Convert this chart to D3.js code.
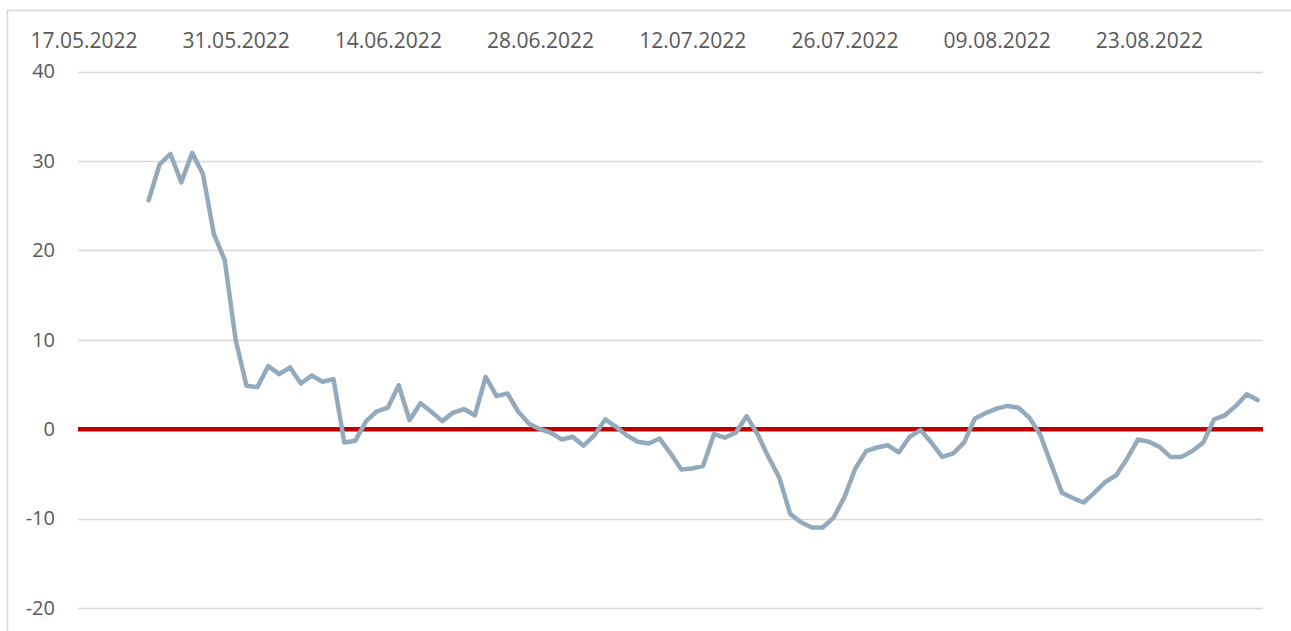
<!DOCTYPE html>
<html>
<head>
<meta charset="utf-8">
<script src="https://cdn.jsdelivr.net/npm/d3@7"></script>
<style>
  body { margin: 0; background: #fff; }
  svg { display: block; }
</style>
</head>
<body>
<div id="chart"></div>
<script>
// daily values from 23.05.2022 to 02.09.2022
var firstDay = Date.UTC(2022, 4, 23)
var values = [
  25.6, 29.6, 30.8, 27.6, 30.9, 28.5, 21.8, 18.9, 10.0, 4.85,
  4.7, 7.05, 6.15, 6.9, 5.1, 6.0, 5.3, 5.6, -1.5, -1.3,
  0.9, 2.0, 2.4, 4.9, 1.0, 2.9, 1.95, 0.9, 1.85, 2.25,
  1.55, 5.85, 3.7, 4.0, 1.95, 0.6, 0.0, -0.4, -1.15, -0.85,
  -1.85, -0.7, 1.1, 0.25, -0.7, -1.4, -1.6, -1.05, -2.7, -4.5,
  -4.4, -4.1, -0.55, -0.95, -0.4, 1.45, -0.55, -3.1, -5.4, -9.45,
  -10.4, -11.0, -11.0, -9.9, -7.6, -4.4, -2.45, -2.05, -1.8, -2.6,
  -0.85, -0.1, -1.5, -3.1, -2.7, -1.5, 1.2, 1.8, 2.3, 2.6,
  2.4, 1.3, -0.6, -3.85, -7.1, -7.7, -8.2, -7.1, -5.9, -5.15,
  -3.3, -1.15, -1.4, -2.0, -3.1, -3.1, -2.45, -1.5, 1.1, 1.55,
  2.6, 3.9, 3.25
]
var axisStart = Date.UTC(2022, 4, 17)
var axisEnd = Date.UTC(2022, 8, 2)
var xTickLabels = ["17.05.2022", "31.05.2022", "14.06.2022", "28.06.2022",
  "12.07.2022", "26.07.2022", "09.08.2022", "23.08.2022"]
var yTicks = [-20, -10, 0, 10, 20, 30, 40]

var parseLabel = d3.utcParse("%d.%m.%Y")
var data = values.map(function(v, i) {
  return { date: d3.utcDay.offset(new Date(firstDay), i), value: v }
})

var width = 1291, height = 631
var margin = { left: 78, right: 28, top: 71.5, bottom: 23 }

var svg = d3.select("#chart")
  .append("svg")
  .attr("width", width)
  .attr("height", height)

// outer frame
svg.append("rect")
  .attr("x", 7.5)
  .attr("y", 10.5)
  .attr("width", 1400)
  .attr("height", 700)
  .attr("fill", "none")
  .attr("stroke", "#d9d9d9")
  .attr("stroke-width", 1.5)

// half a day of padding on each side, like a date category axis
var x = d3.scaleUtc()
  .domain([d3.utcHour.offset(new Date(axisStart), -12), d3.utcHour.offset(new Date(axisEnd), 12)])
  .range([margin.left, width - margin.right])

var y = d3.scaleLinear()
  .domain([-20, 40])
  .range([height - margin.bottom, margin.top])

// gridlines
svg.append("g")
  .selectAll("line")
  .data(yTicks)
  .enter()
  .append("line")
  .attr("x1", margin.left)
  .attr("x2", width - margin.right)
  .attr("y1", function(d) { return Math.round(y(d)) + 0.5 })
  .attr("y2", function(d) { return Math.round(y(d)) + 0.5 })
  .attr("stroke", "#d9d9d9")
  .attr("stroke-width", 1.5)

// Y axis labels (plain hyphen for negatives)
var yAxis = svg.append("g")
  .attr("transform", "translate(55,0)")
  .call(d3.axisLeft(y)
    .tickValues(yTicks)
    .tickFormat(function(d) { return String(d) })
    .tickSize(0)
    .tickPadding(0))
yAxis.select(".domain").remove()
yAxis.selectAll("text")
  .attr("font-family", "'Open Sans', sans-serif")
  .attr("font-size", 20)
  .attr("fill", "#595959")

// X axis labels on top
var xAxis = svg.append("g")
  .attr("transform", "translate(0,48)")
  .call(d3.axisTop(x)
    .tickValues(xTickLabels.map(parseLabel))
    .tickFormat(d3.utcFormat("%d.%m.%Y"))
    .tickSize(0)
    .tickPadding(0))
xAxis.select(".domain").remove()
xAxis.selectAll("text")
  .attr("font-family", "'Open Sans', sans-serif")
  .attr("font-size", 21)
  .attr("fill", "#595959")

// zero line
svg.append("line")
  .attr("x1", margin.left)
  .attr("x2", width - margin.right)
  .attr("y1", y(0))
  .attr("y2", y(0))
  .attr("stroke", "#c00000")
  .attr("stroke-width", 4.5)

// series line
var line = d3.line()
  .x(function(d) { return x(d.date) })
  .y(function(d) { return y(d.value) })

svg.append("path")
  .datum(data)
  .attr("d", line)
  .attr("fill", "none")
  .attr("stroke", "#93a9bc")
  .attr("stroke-width", 4.5)
  .attr("stroke-linejoin", "round")
  .attr("stroke-linecap", "round")
</script>
</body>
</html>
